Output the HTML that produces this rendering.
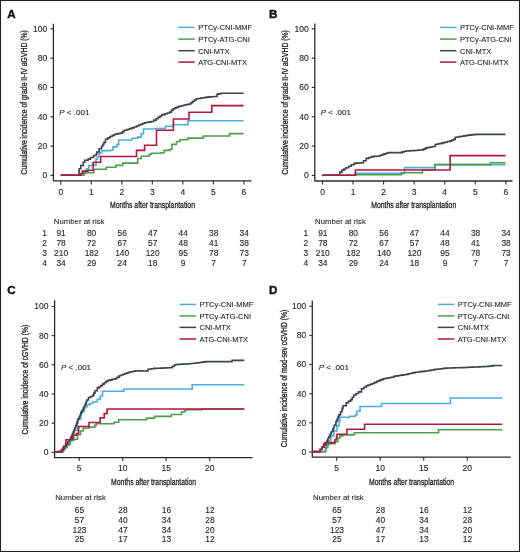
<!DOCTYPE html>
<html><head><meta charset="utf-8"><style>
html,body{margin:0;padding:0;background:#fff;}
body{width:520px;height:552px;overflow:hidden;}
svg{display:block;will-change:transform;}
svg text{font-family:"Liberation Sans", sans-serif;fill:#231f20;}
</style></head><body>
<svg width="520" height="552" viewBox="0 0 520 552">
<rect x="0.5" y="0.5" width="519" height="551" fill="#fff" stroke="#1e1e1e" stroke-width="1.1"/>
<path d="M53.40 23.70 V180.90 H251.50" fill="none" stroke="#2b2b2b" stroke-width="1.3"/>
<line x1="50.40" y1="175.40" x2="53.40" y2="175.40" stroke="#2b2b2b" stroke-width="1.1"/>
<text x="47.30" y="178.30" font-size="8.5" text-anchor="end" stroke="#231f20" stroke-width="0.12">0</text>
<line x1="50.40" y1="146.08" x2="53.40" y2="146.08" stroke="#2b2b2b" stroke-width="1.1"/>
<text x="47.30" y="148.98" font-size="8.5" text-anchor="end" stroke="#231f20" stroke-width="0.12">20</text>
<line x1="50.40" y1="116.76" x2="53.40" y2="116.76" stroke="#2b2b2b" stroke-width="1.1"/>
<text x="47.30" y="119.66" font-size="8.5" text-anchor="end" stroke="#231f20" stroke-width="0.12">40</text>
<line x1="50.40" y1="87.44" x2="53.40" y2="87.44" stroke="#2b2b2b" stroke-width="1.1"/>
<text x="47.30" y="90.34" font-size="8.5" text-anchor="end" stroke="#231f20" stroke-width="0.12">60</text>
<line x1="50.40" y1="58.12" x2="53.40" y2="58.12" stroke="#2b2b2b" stroke-width="1.1"/>
<text x="47.30" y="61.02" font-size="8.5" text-anchor="end" stroke="#231f20" stroke-width="0.12">80</text>
<line x1="50.40" y1="28.80" x2="53.40" y2="28.80" stroke="#2b2b2b" stroke-width="1.1"/>
<text x="47.30" y="31.70" font-size="8.5" text-anchor="end" stroke="#231f20" stroke-width="0.12">100</text>
<line x1="60.80" y1="180.90" x2="60.80" y2="184.40" stroke="#2b2b2b" stroke-width="1.1"/>
<text x="60.80" y="194.60" font-size="8.5" text-anchor="middle" stroke="#231f20" stroke-width="0.12">0</text>
<line x1="91.32" y1="180.90" x2="91.32" y2="184.40" stroke="#2b2b2b" stroke-width="1.1"/>
<text x="91.32" y="194.60" font-size="8.5" text-anchor="middle" stroke="#231f20" stroke-width="0.12">1</text>
<line x1="121.84" y1="180.90" x2="121.84" y2="184.40" stroke="#2b2b2b" stroke-width="1.1"/>
<text x="121.84" y="194.60" font-size="8.5" text-anchor="middle" stroke="#231f20" stroke-width="0.12">2</text>
<line x1="152.36" y1="180.90" x2="152.36" y2="184.40" stroke="#2b2b2b" stroke-width="1.1"/>
<text x="152.36" y="194.60" font-size="8.5" text-anchor="middle" stroke="#231f20" stroke-width="0.12">3</text>
<line x1="182.88" y1="180.90" x2="182.88" y2="184.40" stroke="#2b2b2b" stroke-width="1.1"/>
<text x="182.88" y="194.60" font-size="8.5" text-anchor="middle" stroke="#231f20" stroke-width="0.12">4</text>
<line x1="213.40" y1="180.90" x2="213.40" y2="184.40" stroke="#2b2b2b" stroke-width="1.1"/>
<text x="213.40" y="194.60" font-size="8.5" text-anchor="middle" stroke="#231f20" stroke-width="0.12">5</text>
<line x1="243.92" y1="180.90" x2="243.92" y2="184.40" stroke="#2b2b2b" stroke-width="1.1"/>
<text x="243.92" y="194.60" font-size="8.5" text-anchor="middle" stroke="#231f20" stroke-width="0.12">6</text>
<text x="7.20" y="17.50" font-size="11.6" text-anchor="start" font-weight="bold" stroke="#111" stroke-width="0.4" style="fill:#111">A</text>
<text transform="translate(26.90,102.30) rotate(-90) scale(0.8252,1)" font-size="8.3" text-anchor="middle" stroke="#231f20" stroke-width="0.32">Cumulative incidence of grade II-IV aGVHD (%)</text>
<text transform="translate(152.45,207.80) scale(0.79,1)" font-size="8.7" text-anchor="middle" stroke="#231f20" stroke-width="0.28">Months after transplantation</text>
<text stroke="#231f20" stroke-width="0.12" x="59.30" y="115.40" font-size="8"><tspan font-style="italic">P</tspan> &lt; .001</text>
<line x1="178.30" y1="27.40" x2="194.80" y2="27.40" stroke="#4aaede" stroke-width="1.5"/>
<text x="198.30" y="30.20" font-size="7.5" text-anchor="start" stroke="#231f20" stroke-width="0.1">PTCy-CNI-MMF</text>
<line x1="178.30" y1="39.10" x2="194.80" y2="39.10" stroke="#4c9e4c" stroke-width="1.5"/>
<text x="198.30" y="41.90" font-size="7.5" text-anchor="start" stroke="#231f20" stroke-width="0.1">PTCy-ATG-CNI</text>
<line x1="178.30" y1="50.70" x2="194.80" y2="50.70" stroke="#3c414e" stroke-width="1.5"/>
<text x="198.30" y="53.50" font-size="7.5" text-anchor="start" stroke="#231f20" stroke-width="0.1">CNI-MTX</text>
<line x1="178.30" y1="62.10" x2="194.80" y2="62.10" stroke="#b3173f" stroke-width="1.5"/>
<text x="198.30" y="64.90" font-size="7.5" text-anchor="start" stroke="#231f20" stroke-width="0.1">ATG-CNI-MTX</text>
<text x="53.80" y="224.20" font-size="7.8" text-anchor="start" stroke="#231f20" stroke-width="0.1">Number at risk</text>
<text x="44.60" y="236.40" font-size="8.4" text-anchor="middle" stroke="#231f20" stroke-width="0.12">1</text>
<text x="61.10" y="236.40" font-size="8.4" text-anchor="middle" stroke="#231f20" stroke-width="0.12">91</text>
<text x="91.62" y="236.40" font-size="8.4" text-anchor="middle" stroke="#231f20" stroke-width="0.12">80</text>
<text x="122.14" y="236.40" font-size="8.4" text-anchor="middle" stroke="#231f20" stroke-width="0.12">56</text>
<text x="152.66" y="236.40" font-size="8.4" text-anchor="middle" stroke="#231f20" stroke-width="0.12">47</text>
<text x="183.18" y="236.40" font-size="8.4" text-anchor="middle" stroke="#231f20" stroke-width="0.12">44</text>
<text x="213.70" y="236.40" font-size="8.4" text-anchor="middle" stroke="#231f20" stroke-width="0.12">38</text>
<text x="244.22" y="236.40" font-size="8.4" text-anchor="middle" stroke="#231f20" stroke-width="0.12">34</text>
<text x="44.60" y="246.30" font-size="8.4" text-anchor="middle" stroke="#231f20" stroke-width="0.12">2</text>
<text x="61.10" y="246.30" font-size="8.4" text-anchor="middle" stroke="#231f20" stroke-width="0.12">78</text>
<text x="91.62" y="246.30" font-size="8.4" text-anchor="middle" stroke="#231f20" stroke-width="0.12">72</text>
<text x="122.14" y="246.30" font-size="8.4" text-anchor="middle" stroke="#231f20" stroke-width="0.12">67</text>
<text x="152.66" y="246.30" font-size="8.4" text-anchor="middle" stroke="#231f20" stroke-width="0.12">57</text>
<text x="183.18" y="246.30" font-size="8.4" text-anchor="middle" stroke="#231f20" stroke-width="0.12">48</text>
<text x="213.70" y="246.30" font-size="8.4" text-anchor="middle" stroke="#231f20" stroke-width="0.12">41</text>
<text x="244.22" y="246.30" font-size="8.4" text-anchor="middle" stroke="#231f20" stroke-width="0.12">38</text>
<text x="44.60" y="256.20" font-size="8.4" text-anchor="middle" stroke="#231f20" stroke-width="0.12">3</text>
<text x="61.10" y="256.20" font-size="8.4" text-anchor="middle" stroke="#231f20" stroke-width="0.12">210</text>
<text x="91.62" y="256.20" font-size="8.4" text-anchor="middle" stroke="#231f20" stroke-width="0.12">182</text>
<text x="122.14" y="256.20" font-size="8.4" text-anchor="middle" stroke="#231f20" stroke-width="0.12">140</text>
<text x="152.66" y="256.20" font-size="8.4" text-anchor="middle" stroke="#231f20" stroke-width="0.12">120</text>
<text x="183.18" y="256.20" font-size="8.4" text-anchor="middle" stroke="#231f20" stroke-width="0.12">95</text>
<text x="213.70" y="256.20" font-size="8.4" text-anchor="middle" stroke="#231f20" stroke-width="0.12">78</text>
<text x="244.22" y="256.20" font-size="8.4" text-anchor="middle" stroke="#231f20" stroke-width="0.12">73</text>
<text x="44.60" y="266.00" font-size="8.4" text-anchor="middle" stroke="#231f20" stroke-width="0.12">4</text>
<text x="61.10" y="266.00" font-size="8.4" text-anchor="middle" stroke="#231f20" stroke-width="0.12">34</text>
<text x="91.62" y="266.00" font-size="8.4" text-anchor="middle" stroke="#231f20" stroke-width="0.12">29</text>
<text x="122.14" y="266.00" font-size="8.4" text-anchor="middle" stroke="#231f20" stroke-width="0.12">24</text>
<text x="152.66" y="266.00" font-size="8.4" text-anchor="middle" stroke="#231f20" stroke-width="0.12">18</text>
<text x="183.18" y="266.00" font-size="8.4" text-anchor="middle" stroke="#231f20" stroke-width="0.12">9</text>
<text x="213.70" y="266.00" font-size="8.4" text-anchor="middle" stroke="#231f20" stroke-width="0.12">7</text>
<text x="244.22" y="266.00" font-size="8.4" text-anchor="middle" stroke="#231f20" stroke-width="0.12">7</text>
<path d="M60.80 175.20 L84.00 175.20 L84.00 173.50 L85.60 173.50 L85.60 170.30 L86.40 170.30 L86.40 168.70 L88.80 168.70 L88.80 165.50 L92.00 165.50 L92.00 165.10 L96.00 165.10 L96.00 159.10 L97.50 159.10 L97.50 156.70 L99.10 156.70 L99.10 153.50 L100.70 153.50 L100.70 152.00 L102.30 152.00 L102.30 150.60 L110.00 150.60 L110.00 150.20 L112.90 150.20 L112.90 146.90 L116.90 146.90 L116.90 144.60 L118.70 144.60 L118.70 140.00 L131.90 140.00 L131.90 138.30 L137.70 138.30 L137.70 137.10 L141.20 137.10 L141.20 133.70 L143.50 133.70 L143.50 129.00 L155.00 129.00 L155.00 128.50 L165.40 128.50 L165.40 126.20 L173.10 126.20 L173.10 124.80 L188.10 124.80 L188.10 120.80 L243.60 120.80" fill="none" stroke="#4aaede" stroke-width="1.6" stroke-linejoin="miter"/>
<path d="M60.80 175.20 L82.10 175.20 L83.70 175.20 L83.70 172.80 L93.80 172.80 L93.80 169.30 L106.30 169.30 L106.30 167.30 L115.80 167.30 L115.80 165.40 L122.70 165.40 L122.70 163.10 L137.70 163.10 L137.70 158.50 L141.20 158.50 L141.20 156.20 L149.20 156.20 L149.20 154.40 L151.50 154.40 L151.50 153.30 L160.80 153.30 L160.80 152.70 L164.20 152.70 L164.20 150.40 L170.00 150.40 L170.00 149.20 L171.90 149.20 L171.90 144.40 L176.50 144.40 L176.50 141.50 L180.00 141.50 L180.00 139.80 L186.90 139.80 L186.90 139.20 L188.10 139.20 L188.10 138.10 L203.10 138.10 L203.10 136.00 L229.40 136.00 L229.40 133.60 L243.60 133.60" fill="none" stroke="#4c9e4c" stroke-width="1.6" stroke-linejoin="miter"/>
<path d="M60.80 175.20 L78.80 175.20 L78.80 175.20 L78.93 175.20 L78.93 173.03 L79.07 173.03 L79.07 170.87 L79.20 170.87 L79.20 168.70 L80.80 168.70 L80.80 165.50 L83.20 165.50 L83.20 162.30 L84.80 162.30 L84.80 160.30 L88.00 160.30 L88.00 159.10 L90.40 159.10 L90.40 157.50 L93.60 157.50 L93.60 155.50 L96.00 155.50 L96.00 154.30 L96.80 154.30 L96.80 152.00 L99.10 152.00 L99.10 148.80 L101.50 148.80 L101.50 146.40 L102.70 146.40 L102.70 144.40 L103.90 144.40 L103.90 142.40 L105.50 142.40 L105.50 139.20 L107.75 139.20 L107.75 137.85 L110.00 137.85 L110.00 136.50 L112.30 136.50 L112.30 135.35 L114.60 135.35 L114.60 134.20 L116.53 134.20 L116.53 133.83 L118.47 133.83 L118.47 133.47 L120.40 133.47 L120.40 133.10 L122.40 133.10 L122.40 131.65 L124.40 131.65 L124.40 130.20 L126.90 130.20 L126.90 129.43 L129.40 129.43 L129.40 128.67 L131.90 128.67 L131.90 127.90 L134.20 127.90 L134.20 126.93 L136.50 126.93 L136.50 125.97 L138.80 125.97 L138.80 125.00 L140.73 125.00 L140.73 124.23 L142.67 124.23 L142.67 123.47 L144.60 123.47 L144.60 122.70 L146.90 122.70 L146.90 122.30 L149.20 122.30 L149.20 121.90 L151.50 121.90 L151.50 121.50 L153.85 121.50 L153.85 120.10 L156.20 120.10 L156.20 118.70 L158.10 118.70 L158.10 117.33 L160.00 117.33 L160.00 115.97 L161.90 115.97 L161.90 114.60 L165.00 114.60 L165.00 113.80 L167.30 113.80 L167.30 112.95 L169.60 112.95 L169.60 112.10 L171.35 112.10 L171.35 110.40 L173.10 110.40 L173.10 108.70 L175.00 108.70 L175.00 107.90 L176.90 107.90 L176.90 107.10 L178.80 107.10 L178.80 106.30 L181.15 106.30 L181.15 105.75 L183.50 105.75 L183.50 105.20 L185.40 105.20 L185.40 104.80 L187.30 104.80 L187.30 104.40 L189.20 104.40 L189.20 104.00 L190.95 104.00 L190.95 102.60 L192.70 102.60 L192.70 101.20 L194.45 101.20 L194.45 100.00 L196.20 100.00 L196.20 98.80 L198.50 98.80 L198.50 98.43 L200.80 98.43 L200.80 98.07 L203.10 98.07 L203.10 97.70 L205.10 97.70 L205.10 97.40 L207.10 97.40 L207.10 97.10 L209.43 97.10 L209.43 96.90 L211.77 96.90 L211.77 96.70 L214.10 96.70 L214.10 96.50 L217.10 96.50 L217.10 94.10 L219.15 94.10 L219.15 93.65 L221.20 93.65 L221.20 93.20 L243.60 93.20 L243.60 93.20" fill="none" stroke="#3c414e" stroke-width="1.6" stroke-linejoin="miter"/>
<path d="M60.80 175.20 L80.80 175.20 L80.80 173.50 L82.40 173.50 L82.40 171.10 L88.00 171.10 L88.00 170.20 L93.20 170.20 L93.20 162.30 L100.70 162.30 L100.70 156.50 L136.50 156.50 L136.50 150.40 L144.60 150.40 L144.60 145.20 L156.50 145.20 L156.50 130.30 L173.40 130.30 L173.40 119.00 L189.00 119.00 L189.00 112.20 L211.80 112.20 L211.80 105.60 L243.60 105.60" fill="none" stroke="#b3173f" stroke-width="1.6" stroke-linejoin="miter"/>
<path d="M314.80 23.40 V181.00 H512.60" fill="none" stroke="#2b2b2b" stroke-width="1.3"/>
<line x1="311.80" y1="175.40" x2="314.80" y2="175.40" stroke="#2b2b2b" stroke-width="1.1"/>
<text x="308.70" y="178.30" font-size="8.5" text-anchor="end" stroke="#231f20" stroke-width="0.12">0</text>
<line x1="311.80" y1="146.08" x2="314.80" y2="146.08" stroke="#2b2b2b" stroke-width="1.1"/>
<text x="308.70" y="148.98" font-size="8.5" text-anchor="end" stroke="#231f20" stroke-width="0.12">20</text>
<line x1="311.80" y1="116.76" x2="314.80" y2="116.76" stroke="#2b2b2b" stroke-width="1.1"/>
<text x="308.70" y="119.66" font-size="8.5" text-anchor="end" stroke="#231f20" stroke-width="0.12">40</text>
<line x1="311.80" y1="87.44" x2="314.80" y2="87.44" stroke="#2b2b2b" stroke-width="1.1"/>
<text x="308.70" y="90.34" font-size="8.5" text-anchor="end" stroke="#231f20" stroke-width="0.12">60</text>
<line x1="311.80" y1="58.12" x2="314.80" y2="58.12" stroke="#2b2b2b" stroke-width="1.1"/>
<text x="308.70" y="61.02" font-size="8.5" text-anchor="end" stroke="#231f20" stroke-width="0.12">80</text>
<line x1="311.80" y1="28.80" x2="314.80" y2="28.80" stroke="#2b2b2b" stroke-width="1.1"/>
<text x="308.70" y="31.70" font-size="8.5" text-anchor="end" stroke="#231f20" stroke-width="0.12">100</text>
<line x1="322.50" y1="181.00" x2="322.50" y2="184.50" stroke="#2b2b2b" stroke-width="1.1"/>
<text x="322.50" y="194.60" font-size="8.5" text-anchor="middle" stroke="#231f20" stroke-width="0.12">0</text>
<line x1="353.05" y1="181.00" x2="353.05" y2="184.50" stroke="#2b2b2b" stroke-width="1.1"/>
<text x="353.05" y="194.60" font-size="8.5" text-anchor="middle" stroke="#231f20" stroke-width="0.12">1</text>
<line x1="383.60" y1="181.00" x2="383.60" y2="184.50" stroke="#2b2b2b" stroke-width="1.1"/>
<text x="383.60" y="194.60" font-size="8.5" text-anchor="middle" stroke="#231f20" stroke-width="0.12">2</text>
<line x1="414.15" y1="181.00" x2="414.15" y2="184.50" stroke="#2b2b2b" stroke-width="1.1"/>
<text x="414.15" y="194.60" font-size="8.5" text-anchor="middle" stroke="#231f20" stroke-width="0.12">3</text>
<line x1="444.70" y1="181.00" x2="444.70" y2="184.50" stroke="#2b2b2b" stroke-width="1.1"/>
<text x="444.70" y="194.60" font-size="8.5" text-anchor="middle" stroke="#231f20" stroke-width="0.12">4</text>
<line x1="475.25" y1="181.00" x2="475.25" y2="184.50" stroke="#2b2b2b" stroke-width="1.1"/>
<text x="475.25" y="194.60" font-size="8.5" text-anchor="middle" stroke="#231f20" stroke-width="0.12">5</text>
<line x1="505.80" y1="181.00" x2="505.80" y2="184.50" stroke="#2b2b2b" stroke-width="1.1"/>
<text x="505.80" y="194.60" font-size="8.5" text-anchor="middle" stroke="#231f20" stroke-width="0.12">6</text>
<text x="269.00" y="17.50" font-size="11.6" text-anchor="start" font-weight="bold" stroke="#111" stroke-width="0.4" style="fill:#111">B</text>
<text transform="translate(287.90,102.30) rotate(-90) scale(0.8252,1)" font-size="8.3" text-anchor="middle" stroke="#231f20" stroke-width="0.32">Cumulative incidence of grade II-IV aGVHD (%)</text>
<text transform="translate(413.70,207.80) scale(0.79,1)" font-size="8.7" text-anchor="middle" stroke="#231f20" stroke-width="0.28">Months after transplantation</text>
<text stroke="#231f20" stroke-width="0.12" x="320.80" y="115.40" font-size="8"><tspan font-style="italic">P</tspan> &lt; .001</text>
<line x1="440.00" y1="27.40" x2="456.50" y2="27.40" stroke="#4aaede" stroke-width="1.5"/>
<text x="460.00" y="30.20" font-size="7.5" text-anchor="start" stroke="#231f20" stroke-width="0.1">PTCy-CNI-MMF</text>
<line x1="440.00" y1="39.10" x2="456.50" y2="39.10" stroke="#4c9e4c" stroke-width="1.5"/>
<text x="460.00" y="41.90" font-size="7.5" text-anchor="start" stroke="#231f20" stroke-width="0.1">PTCy-ATG-CNI</text>
<line x1="440.00" y1="50.70" x2="456.50" y2="50.70" stroke="#3c414e" stroke-width="1.5"/>
<text x="460.00" y="53.50" font-size="7.5" text-anchor="start" stroke="#231f20" stroke-width="0.1">CNI-MTX</text>
<line x1="440.00" y1="62.10" x2="456.50" y2="62.10" stroke="#b3173f" stroke-width="1.5"/>
<text x="460.00" y="64.90" font-size="7.5" text-anchor="start" stroke="#231f20" stroke-width="0.1">ATG-CNI-MTX</text>
<text x="315.10" y="224.20" font-size="7.8" text-anchor="start" stroke="#231f20" stroke-width="0.1">Number at risk</text>
<text x="305.90" y="236.40" font-size="8.4" text-anchor="middle" stroke="#231f20" stroke-width="0.12">1</text>
<text x="322.80" y="236.40" font-size="8.4" text-anchor="middle" stroke="#231f20" stroke-width="0.12">91</text>
<text x="353.35" y="236.40" font-size="8.4" text-anchor="middle" stroke="#231f20" stroke-width="0.12">80</text>
<text x="383.90" y="236.40" font-size="8.4" text-anchor="middle" stroke="#231f20" stroke-width="0.12">56</text>
<text x="414.45" y="236.40" font-size="8.4" text-anchor="middle" stroke="#231f20" stroke-width="0.12">47</text>
<text x="445.00" y="236.40" font-size="8.4" text-anchor="middle" stroke="#231f20" stroke-width="0.12">44</text>
<text x="475.55" y="236.40" font-size="8.4" text-anchor="middle" stroke="#231f20" stroke-width="0.12">38</text>
<text x="506.10" y="236.40" font-size="8.4" text-anchor="middle" stroke="#231f20" stroke-width="0.12">34</text>
<text x="305.90" y="246.30" font-size="8.4" text-anchor="middle" stroke="#231f20" stroke-width="0.12">2</text>
<text x="322.80" y="246.30" font-size="8.4" text-anchor="middle" stroke="#231f20" stroke-width="0.12">78</text>
<text x="353.35" y="246.30" font-size="8.4" text-anchor="middle" stroke="#231f20" stroke-width="0.12">72</text>
<text x="383.90" y="246.30" font-size="8.4" text-anchor="middle" stroke="#231f20" stroke-width="0.12">67</text>
<text x="414.45" y="246.30" font-size="8.4" text-anchor="middle" stroke="#231f20" stroke-width="0.12">57</text>
<text x="445.00" y="246.30" font-size="8.4" text-anchor="middle" stroke="#231f20" stroke-width="0.12">48</text>
<text x="475.55" y="246.30" font-size="8.4" text-anchor="middle" stroke="#231f20" stroke-width="0.12">41</text>
<text x="506.10" y="246.30" font-size="8.4" text-anchor="middle" stroke="#231f20" stroke-width="0.12">38</text>
<text x="305.90" y="256.20" font-size="8.4" text-anchor="middle" stroke="#231f20" stroke-width="0.12">3</text>
<text x="322.80" y="256.20" font-size="8.4" text-anchor="middle" stroke="#231f20" stroke-width="0.12">210</text>
<text x="353.35" y="256.20" font-size="8.4" text-anchor="middle" stroke="#231f20" stroke-width="0.12">182</text>
<text x="383.90" y="256.20" font-size="8.4" text-anchor="middle" stroke="#231f20" stroke-width="0.12">140</text>
<text x="414.45" y="256.20" font-size="8.4" text-anchor="middle" stroke="#231f20" stroke-width="0.12">120</text>
<text x="445.00" y="256.20" font-size="8.4" text-anchor="middle" stroke="#231f20" stroke-width="0.12">95</text>
<text x="475.55" y="256.20" font-size="8.4" text-anchor="middle" stroke="#231f20" stroke-width="0.12">78</text>
<text x="506.10" y="256.20" font-size="8.4" text-anchor="middle" stroke="#231f20" stroke-width="0.12">73</text>
<text x="305.90" y="266.00" font-size="8.4" text-anchor="middle" stroke="#231f20" stroke-width="0.12">4</text>
<text x="322.80" y="266.00" font-size="8.4" text-anchor="middle" stroke="#231f20" stroke-width="0.12">34</text>
<text x="353.35" y="266.00" font-size="8.4" text-anchor="middle" stroke="#231f20" stroke-width="0.12">29</text>
<text x="383.90" y="266.00" font-size="8.4" text-anchor="middle" stroke="#231f20" stroke-width="0.12">24</text>
<text x="414.45" y="266.00" font-size="8.4" text-anchor="middle" stroke="#231f20" stroke-width="0.12">18</text>
<text x="445.00" y="266.00" font-size="8.4" text-anchor="middle" stroke="#231f20" stroke-width="0.12">9</text>
<text x="475.55" y="266.00" font-size="8.4" text-anchor="middle" stroke="#231f20" stroke-width="0.12">7</text>
<text x="506.10" y="266.00" font-size="8.4" text-anchor="middle" stroke="#231f20" stroke-width="0.12">7</text>
<path d="M322.40 175.20 L355.40 175.20 L355.40 173.40 L404.60 173.40 L404.60 167.60 L434.60 167.60 L434.60 164.60 L505.50 164.60" fill="none" stroke="#4aaede" stroke-width="1.6" stroke-linejoin="miter"/>
<path d="M322.40 175.20 L355.40 175.20 L355.40 174.70 L401.30 174.70 L401.30 172.80 L422.40 172.80 L422.40 170.00 L435.00 170.00 L435.00 164.60 L490.50 164.60 L490.50 162.80 L505.50 162.80" fill="none" stroke="#4c9e4c" stroke-width="1.6" stroke-linejoin="miter"/>
<path d="M322.40 175.20 L339.90 175.20 L339.90 175.20 L339.90 175.20 L339.90 172.10 L341.90 172.10 L341.90 170.10 L343.95 170.10 L343.95 168.95 L346.00 168.95 L346.00 167.80 L348.65 167.80 L348.65 166.25 L351.30 166.25 L351.30 164.70 L354.00 164.70 L354.00 163.40 L356.27 163.40 L356.27 163.17 L358.53 163.17 L358.53 162.93 L360.80 162.93 L360.80 162.70 L363.50 162.70 L363.50 160.70 L366.10 160.70 L366.10 158.40 L368.80 158.40 L368.80 157.50 L371.50 157.50 L371.50 156.60 L373.77 156.60 L373.77 156.40 L376.03 156.40 L376.03 156.20 L378.30 156.20 L378.30 156.00 L380.30 156.00 L380.30 155.30 L382.30 155.30 L382.30 154.60 L384.00 154.60 L384.00 153.90 L386.05 153.90 L386.05 153.25 L388.10 153.25 L388.10 152.60 L400.20 152.60 L400.20 152.60 L402.20 152.60 L402.20 151.90 L404.20 151.90 L404.20 151.20 L406.23 151.20 L406.23 151.05 L408.25 151.05 L408.25 150.90 L410.27 150.90 L410.27 150.75 L412.30 150.75 L412.30 150.60 L414.65 150.60 L414.65 150.43 L417.00 150.43 L417.00 150.25 L419.35 150.25 L419.35 150.07 L421.70 150.07 L421.70 149.90 L423.75 149.90 L423.75 148.90 L425.80 148.90 L425.80 147.90 L428.03 147.90 L428.03 147.43 L430.27 147.43 L430.27 146.97 L432.50 146.97 L432.50 146.50 L435.20 146.50 L435.20 144.50 L437.20 144.50 L437.20 144.05 L439.20 144.05 L439.20 143.60 L441.90 143.60 L441.90 142.90 L444.60 142.90 L444.60 142.20 L447.35 142.20 L447.35 141.55 L450.10 141.55 L450.10 140.90 L451.90 140.90 L451.90 140.15 L453.70 140.15 L453.70 139.40 L455.20 139.40 L455.20 137.30 L457.35 137.30 L457.35 136.93 L459.50 136.93 L459.50 136.57 L461.65 136.57 L461.65 136.20 L463.80 136.20 L463.80 135.83 L465.95 135.83 L465.95 135.47 L468.10 135.47 L468.10 135.10 L470.53 135.10 L470.53 134.87 L472.97 134.87 L472.97 134.63 L475.40 134.63 L475.40 134.40 L505.50 134.40 L505.50 134.40" fill="none" stroke="#3c414e" stroke-width="1.6" stroke-linejoin="miter"/>
<path d="M322.40 175.20 L355.40 175.20 L355.40 170.00 L450.10 170.00 L450.10 155.60 L505.50 155.60" fill="none" stroke="#b3173f" stroke-width="1.6" stroke-linejoin="miter"/>
<path d="M54.60 300.20 V457.60 H252.60" fill="none" stroke="#2b2b2b" stroke-width="1.3"/>
<line x1="51.60" y1="452.30" x2="54.60" y2="452.30" stroke="#2b2b2b" stroke-width="1.1"/>
<text x="48.50" y="455.20" font-size="8.5" text-anchor="end" stroke="#231f20" stroke-width="0.12">0</text>
<line x1="51.60" y1="423.14" x2="54.60" y2="423.14" stroke="#2b2b2b" stroke-width="1.1"/>
<text x="48.50" y="426.04" font-size="8.5" text-anchor="end" stroke="#231f20" stroke-width="0.12">20</text>
<line x1="51.60" y1="393.98" x2="54.60" y2="393.98" stroke="#2b2b2b" stroke-width="1.1"/>
<text x="48.50" y="396.88" font-size="8.5" text-anchor="end" stroke="#231f20" stroke-width="0.12">40</text>
<line x1="51.60" y1="364.82" x2="54.60" y2="364.82" stroke="#2b2b2b" stroke-width="1.1"/>
<text x="48.50" y="367.72" font-size="8.5" text-anchor="end" stroke="#231f20" stroke-width="0.12">60</text>
<line x1="51.60" y1="335.66" x2="54.60" y2="335.66" stroke="#2b2b2b" stroke-width="1.1"/>
<text x="48.50" y="338.56" font-size="8.5" text-anchor="end" stroke="#231f20" stroke-width="0.12">80</text>
<line x1="51.60" y1="306.50" x2="54.60" y2="306.50" stroke="#2b2b2b" stroke-width="1.1"/>
<text x="48.50" y="309.40" font-size="8.5" text-anchor="end" stroke="#231f20" stroke-width="0.12">100</text>
<line x1="79.20" y1="457.60" x2="79.20" y2="461.10" stroke="#2b2b2b" stroke-width="1.1"/>
<text x="79.20" y="471.40" font-size="8.5" text-anchor="middle" stroke="#231f20" stroke-width="0.12">5</text>
<line x1="122.70" y1="457.60" x2="122.70" y2="461.10" stroke="#2b2b2b" stroke-width="1.1"/>
<text x="122.70" y="471.40" font-size="8.5" text-anchor="middle" stroke="#231f20" stroke-width="0.12">10</text>
<line x1="166.20" y1="457.60" x2="166.20" y2="461.10" stroke="#2b2b2b" stroke-width="1.1"/>
<text x="166.20" y="471.40" font-size="8.5" text-anchor="middle" stroke="#231f20" stroke-width="0.12">15</text>
<line x1="209.70" y1="457.60" x2="209.70" y2="461.10" stroke="#2b2b2b" stroke-width="1.1"/>
<text x="209.70" y="471.40" font-size="8.5" text-anchor="middle" stroke="#231f20" stroke-width="0.12">20</text>
<text x="7.20" y="294.40" font-size="11.6" text-anchor="start" font-weight="bold" stroke="#111" stroke-width="0.4" style="fill:#111">C</text>
<text transform="translate(27.90,379.60) rotate(-90) scale(0.8227,1)" font-size="8.3" text-anchor="middle" stroke="#231f20" stroke-width="0.32">Cumulative incidence of cGVHD (%)</text>
<text transform="translate(153.60,485.00) scale(0.79,1)" font-size="8.7" text-anchor="middle" stroke="#231f20" stroke-width="0.28">Months after transplantation</text>
<text stroke="#231f20" stroke-width="0.12" x="61.00" y="369.70" font-size="8"><tspan font-style="italic">P</tspan> &lt; .001</text>
<line x1="179.50" y1="304.40" x2="196.00" y2="304.40" stroke="#4aaede" stroke-width="1.5"/>
<text x="199.50" y="307.20" font-size="7.5" text-anchor="start" stroke="#231f20" stroke-width="0.1">PTCy-CNI-MMF</text>
<line x1="179.50" y1="315.90" x2="196.00" y2="315.90" stroke="#4c9e4c" stroke-width="1.5"/>
<text x="199.50" y="318.70" font-size="7.5" text-anchor="start" stroke="#231f20" stroke-width="0.1">PTCy-ATG-CNI</text>
<line x1="179.50" y1="327.40" x2="196.00" y2="327.40" stroke="#3c414e" stroke-width="1.5"/>
<text x="199.50" y="330.20" font-size="7.5" text-anchor="start" stroke="#231f20" stroke-width="0.1">CNI-MTX</text>
<line x1="179.50" y1="339.00" x2="196.00" y2="339.00" stroke="#b3173f" stroke-width="1.5"/>
<text x="199.50" y="341.80" font-size="7.5" text-anchor="start" stroke="#231f20" stroke-width="0.1">ATG-CNI-MTX</text>
<text x="55.20" y="500.40" font-size="7.8" text-anchor="start" stroke="#231f20" stroke-width="0.1">Number at risk</text>
<text x="79.50" y="513.00" font-size="8.4" text-anchor="middle" stroke="#231f20" stroke-width="0.12">65</text>
<text x="123.00" y="513.00" font-size="8.4" text-anchor="middle" stroke="#231f20" stroke-width="0.12">28</text>
<text x="166.50" y="513.00" font-size="8.4" text-anchor="middle" stroke="#231f20" stroke-width="0.12">16</text>
<text x="210.00" y="513.00" font-size="8.4" text-anchor="middle" stroke="#231f20" stroke-width="0.12">12</text>
<text x="79.50" y="522.80" font-size="8.4" text-anchor="middle" stroke="#231f20" stroke-width="0.12">57</text>
<text x="123.00" y="522.80" font-size="8.4" text-anchor="middle" stroke="#231f20" stroke-width="0.12">40</text>
<text x="166.50" y="522.80" font-size="8.4" text-anchor="middle" stroke="#231f20" stroke-width="0.12">34</text>
<text x="210.00" y="522.80" font-size="8.4" text-anchor="middle" stroke="#231f20" stroke-width="0.12">28</text>
<text x="79.50" y="532.60" font-size="8.4" text-anchor="middle" stroke="#231f20" stroke-width="0.12">123</text>
<text x="123.00" y="532.60" font-size="8.4" text-anchor="middle" stroke="#231f20" stroke-width="0.12">47</text>
<text x="166.50" y="532.60" font-size="8.4" text-anchor="middle" stroke="#231f20" stroke-width="0.12">34</text>
<text x="210.00" y="532.60" font-size="8.4" text-anchor="middle" stroke="#231f20" stroke-width="0.12">20</text>
<text x="79.50" y="542.40" font-size="8.4" text-anchor="middle" stroke="#231f20" stroke-width="0.12">25</text>
<text x="123.00" y="542.40" font-size="8.4" text-anchor="middle" stroke="#231f20" stroke-width="0.12">17</text>
<text x="166.50" y="542.40" font-size="8.4" text-anchor="middle" stroke="#231f20" stroke-width="0.12">13</text>
<text x="210.00" y="542.40" font-size="8.4" text-anchor="middle" stroke="#231f20" stroke-width="0.12">12</text>
<path d="M54.60 452.00 L60.50 452.00 L63.50 452.00 L63.50 448.00 L66.50 448.00 L66.50 444.00 L70.50 444.00 L70.50 438.00 L74.00 438.00 L74.00 430.50 L77.50 430.50 L77.50 419.00 L80.90 419.00 L80.90 411.50 L84.40 411.50 L84.40 406.90 L87.00 406.90 L87.00 404.60 L90.20 404.60 L90.20 403.50 L92.70 403.50 L92.70 401.70 L97.30 401.70 L97.30 399.40 L100.20 399.40 L100.20 396.00 L102.50 396.00 L102.50 391.30 L123.80 391.30 L123.80 389.00 L192.20 389.00 L192.20 384.80 L244.30 384.80" fill="none" stroke="#4aaede" stroke-width="1.6" stroke-linejoin="miter"/>
<path d="M54.60 452.00 L60.20 452.00 L60.20 451.90 L62.50 451.90 L62.50 449.60 L64.80 449.60 L64.80 447.50 L67.10 447.50 L67.10 445.00 L69.40 445.00 L69.40 440.40 L74.00 440.40 L74.00 439.20 L77.50 439.20 L77.50 434.60 L80.50 434.60 L80.50 431.00 L83.20 431.00 L83.20 428.30 L89.00 428.30 L89.00 427.10 L94.80 427.10 L94.80 425.40 L96.20 425.40 L96.20 423.70 L114.00 423.70 L114.00 422.20 L118.70 422.20 L118.70 419.80 L146.60 419.80 L146.60 418.10 L154.60 418.10 L154.60 416.40 L171.20 416.40 L171.20 414.50 L181.40 414.50 L181.40 412.00 L184.30 412.00 L184.30 410.90 L185.70 410.90 L185.70 409.70 L202.30 409.70 L202.30 409.00 L244.30 409.00" fill="none" stroke="#4c9e4c" stroke-width="1.6" stroke-linejoin="miter"/>
<path d="M54.60 452.00 L60.00 452.00 L60.00 452.00 L61.50 452.00 L61.50 450.00 L63.00 450.00 L63.00 448.00 L64.50 448.00 L64.50 446.00 L66.00 446.00 L66.00 444.00 L67.50 444.00 L67.50 442.00 L69.00 442.00 L69.00 440.00 L70.50 440.00 L70.50 438.00 L71.38 438.00 L71.38 436.00 L72.25 436.00 L72.25 434.00 L73.12 434.00 L73.12 432.00 L74.00 432.00 L74.00 430.00 L74.88 430.00 L74.88 427.70 L75.75 427.70 L75.75 425.40 L76.62 425.40 L76.62 423.10 L77.50 423.10 L77.50 420.80 L78.35 420.80 L78.35 418.77 L79.20 418.77 L79.20 416.75 L80.05 416.75 L80.05 414.73 L80.90 414.73 L80.90 412.70 L82.07 412.70 L82.07 410.40 L83.23 410.40 L83.23 408.10 L84.40 408.10 L84.40 405.80 L85.17 405.80 L85.17 403.87 L85.93 403.87 L85.93 401.93 L86.70 401.93 L86.70 400.00 L88.50 400.00 L88.50 397.50 L90.60 397.50 L90.60 396.45 L92.70 396.45 L92.70 395.40 L93.85 395.40 L93.85 393.10 L95.00 393.10 L95.00 390.80 L97.30 390.80 L97.30 387.90 L99.05 387.90 L99.05 386.75 L100.80 386.75 L100.80 385.60 L102.50 385.60 L102.50 384.15 L104.20 384.15 L104.20 382.70 L105.95 382.70 L105.95 381.55 L107.70 381.55 L107.70 380.40 L110.00 380.40 L110.00 379.83 L112.30 379.83 L112.30 379.27 L114.60 379.27 L114.60 378.70 L116.90 378.70 L116.90 377.25 L119.20 377.25 L119.20 375.80 L121.13 375.80 L121.13 375.03 L123.07 375.03 L123.07 374.27 L125.00 374.27 L125.00 373.50 L126.93 373.50 L126.93 372.90 L128.87 372.90 L128.87 372.30 L130.80 372.30 L130.80 371.70 L133.10 371.70 L133.10 371.25 L135.40 371.25 L135.40 370.80 L137.82 370.80 L137.82 370.85 L140.25 370.85 L140.25 370.90 L142.68 370.90 L142.68 370.95 L145.10 370.95 L145.10 371.00 L148.00 371.00 L148.00 369.30 L149.93 369.30 L149.93 369.00 L151.87 369.00 L151.87 368.70 L153.80 368.70 L153.80 368.40 L156.09 368.40 L156.09 368.30 L158.37 368.30 L158.37 368.20 L160.66 368.20 L160.66 368.10 L162.94 368.10 L162.94 368.00 L165.23 368.00 L165.23 367.90 L167.51 367.90 L167.51 367.80 L169.80 367.80 L169.80 367.70 L171.95 367.70 L171.95 366.45 L174.10 366.45 L174.10 365.20 L175.60 365.20 L175.60 364.50 L177.77 364.50 L177.77 364.38 L179.93 364.38 L179.93 364.27 L182.10 364.27 L182.10 364.15 L184.27 364.15 L184.27 364.03 L186.43 364.03 L186.43 363.92 L188.60 363.92 L188.60 363.80 L191.00 363.80 L191.00 363.53 L193.40 363.53 L193.40 363.27 L195.80 363.27 L195.80 363.00 L197.82 363.00 L197.82 362.72 L199.84 362.72 L199.84 362.44 L201.86 362.44 L201.86 362.16 L203.88 362.16 L203.88 361.88 L205.90 361.88 L205.90 361.60 L229.10 361.60 L229.10 361.60 L232.00 361.60 L232.00 360.40 L244.30 360.40 L244.30 360.40" fill="none" stroke="#3c414e" stroke-width="1.6" stroke-linejoin="miter"/>
<path d="M54.60 451.80 L58.00 451.80 L58.00 451.30 L61.30 451.30 L61.30 449.60 L63.60 449.60 L63.60 446.20 L65.90 446.20 L65.90 439.80 L70.50 439.80 L70.50 439.20 L72.80 439.20 L72.80 435.20 L76.30 435.20 L76.30 433.50 L78.60 433.50 L78.60 426.50 L89.00 426.50 L89.00 422.50 L100.20 422.50 L100.20 417.90 L104.20 417.90 L104.20 413.60 L107.10 413.60 L107.10 409.00 L244.30 409.00" fill="none" stroke="#b3173f" stroke-width="1.6" stroke-linejoin="miter"/>
<path d="M312.30 300.60 V457.20 H510.80" fill="none" stroke="#2b2b2b" stroke-width="1.3"/>
<line x1="309.30" y1="452.00" x2="312.30" y2="452.00" stroke="#2b2b2b" stroke-width="1.1"/>
<text x="306.20" y="454.90" font-size="8.5" text-anchor="end" stroke="#231f20" stroke-width="0.12">0</text>
<line x1="309.30" y1="422.84" x2="312.30" y2="422.84" stroke="#2b2b2b" stroke-width="1.1"/>
<text x="306.20" y="425.74" font-size="8.5" text-anchor="end" stroke="#231f20" stroke-width="0.12">20</text>
<line x1="309.30" y1="393.68" x2="312.30" y2="393.68" stroke="#2b2b2b" stroke-width="1.1"/>
<text x="306.20" y="396.58" font-size="8.5" text-anchor="end" stroke="#231f20" stroke-width="0.12">40</text>
<line x1="309.30" y1="364.52" x2="312.30" y2="364.52" stroke="#2b2b2b" stroke-width="1.1"/>
<text x="306.20" y="367.42" font-size="8.5" text-anchor="end" stroke="#231f20" stroke-width="0.12">60</text>
<line x1="309.30" y1="335.36" x2="312.30" y2="335.36" stroke="#2b2b2b" stroke-width="1.1"/>
<text x="306.20" y="338.26" font-size="8.5" text-anchor="end" stroke="#231f20" stroke-width="0.12">80</text>
<line x1="309.30" y1="306.20" x2="312.30" y2="306.20" stroke="#2b2b2b" stroke-width="1.1"/>
<text x="306.20" y="309.10" font-size="8.5" text-anchor="end" stroke="#231f20" stroke-width="0.12">100</text>
<line x1="336.70" y1="457.20" x2="336.70" y2="460.70" stroke="#2b2b2b" stroke-width="1.1"/>
<text x="336.70" y="471.40" font-size="8.5" text-anchor="middle" stroke="#231f20" stroke-width="0.12">5</text>
<line x1="380.20" y1="457.20" x2="380.20" y2="460.70" stroke="#2b2b2b" stroke-width="1.1"/>
<text x="380.20" y="471.40" font-size="8.5" text-anchor="middle" stroke="#231f20" stroke-width="0.12">10</text>
<line x1="423.70" y1="457.20" x2="423.70" y2="460.70" stroke="#2b2b2b" stroke-width="1.1"/>
<text x="423.70" y="471.40" font-size="8.5" text-anchor="middle" stroke="#231f20" stroke-width="0.12">15</text>
<line x1="467.20" y1="457.20" x2="467.20" y2="460.70" stroke="#2b2b2b" stroke-width="1.1"/>
<text x="467.20" y="471.40" font-size="8.5" text-anchor="middle" stroke="#231f20" stroke-width="0.12">20</text>
<text x="269.00" y="294.40" font-size="11.6" text-anchor="start" font-weight="bold" stroke="#111" stroke-width="0.4" style="fill:#111">D</text>
<text transform="translate(286.50,378.40) rotate(-90) scale(0.8211,1)" font-size="8.3" text-anchor="middle" stroke="#231f20" stroke-width="0.32">Cumulative incidence of mod-sev cGVHD (%)</text>
<text transform="translate(411.55,485.00) scale(0.79,1)" font-size="8.7" text-anchor="middle" stroke="#231f20" stroke-width="0.28">Months after transplantation</text>
<text stroke="#231f20" stroke-width="0.12" x="318.80" y="369.70" font-size="8"><tspan font-style="italic">P</tspan> &lt; .001</text>
<line x1="437.80" y1="304.40" x2="454.30" y2="304.40" stroke="#4aaede" stroke-width="1.5"/>
<text x="457.80" y="307.20" font-size="7.5" text-anchor="start" stroke="#231f20" stroke-width="0.1">PTCy-CNI-MMF</text>
<line x1="437.80" y1="315.90" x2="454.30" y2="315.90" stroke="#4c9e4c" stroke-width="1.5"/>
<text x="457.80" y="318.70" font-size="7.5" text-anchor="start" stroke="#231f20" stroke-width="0.1">PTCy-ATG-CNI</text>
<line x1="437.80" y1="327.40" x2="454.30" y2="327.40" stroke="#3c414e" stroke-width="1.5"/>
<text x="457.80" y="330.20" font-size="7.5" text-anchor="start" stroke="#231f20" stroke-width="0.1">CNI-MTX</text>
<line x1="437.80" y1="339.00" x2="454.30" y2="339.00" stroke="#b3173f" stroke-width="1.5"/>
<text x="457.80" y="341.80" font-size="7.5" text-anchor="start" stroke="#231f20" stroke-width="0.1">ATG-CNI-MTX</text>
<text x="313.00" y="500.40" font-size="7.8" text-anchor="start" stroke="#231f20" stroke-width="0.1">Number at risk</text>
<text x="337.00" y="513.00" font-size="8.4" text-anchor="middle" stroke="#231f20" stroke-width="0.12">65</text>
<text x="380.50" y="513.00" font-size="8.4" text-anchor="middle" stroke="#231f20" stroke-width="0.12">28</text>
<text x="424.00" y="513.00" font-size="8.4" text-anchor="middle" stroke="#231f20" stroke-width="0.12">16</text>
<text x="467.50" y="513.00" font-size="8.4" text-anchor="middle" stroke="#231f20" stroke-width="0.12">12</text>
<text x="337.00" y="522.80" font-size="8.4" text-anchor="middle" stroke="#231f20" stroke-width="0.12">57</text>
<text x="380.50" y="522.80" font-size="8.4" text-anchor="middle" stroke="#231f20" stroke-width="0.12">40</text>
<text x="424.00" y="522.80" font-size="8.4" text-anchor="middle" stroke="#231f20" stroke-width="0.12">34</text>
<text x="467.50" y="522.80" font-size="8.4" text-anchor="middle" stroke="#231f20" stroke-width="0.12">28</text>
<text x="337.00" y="532.60" font-size="8.4" text-anchor="middle" stroke="#231f20" stroke-width="0.12">123</text>
<text x="380.50" y="532.60" font-size="8.4" text-anchor="middle" stroke="#231f20" stroke-width="0.12">47</text>
<text x="424.00" y="532.60" font-size="8.4" text-anchor="middle" stroke="#231f20" stroke-width="0.12">34</text>
<text x="467.50" y="532.60" font-size="8.4" text-anchor="middle" stroke="#231f20" stroke-width="0.12">20</text>
<text x="337.00" y="542.40" font-size="8.4" text-anchor="middle" stroke="#231f20" stroke-width="0.12">25</text>
<text x="380.50" y="542.40" font-size="8.4" text-anchor="middle" stroke="#231f20" stroke-width="0.12">17</text>
<text x="424.00" y="542.40" font-size="8.4" text-anchor="middle" stroke="#231f20" stroke-width="0.12">13</text>
<text x="467.50" y="542.40" font-size="8.4" text-anchor="middle" stroke="#231f20" stroke-width="0.12">12</text>
<path d="M312.80 451.60 L325.40 451.60 L325.90 451.60 L325.90 447.80 L327.90 447.80 L327.90 440.80 L330.90 440.80 L330.90 435.90 L333.90 435.90 L333.90 430.90 L336.90 430.90 L336.90 425.90 L338.90 425.90 L338.90 420.90 L339.90 420.90 L339.90 417.30 L349.80 417.30 L349.80 416.20 L355.40 416.20 L355.40 415.00 L356.90 415.00 L356.90 411.20 L360.00 411.20 L360.00 406.50 L381.50 406.50 L381.50 403.50 L450.50 403.50 L450.50 398.00 L502.20 398.00" fill="none" stroke="#4aaede" stroke-width="1.6" stroke-linejoin="miter"/>
<path d="M312.80 451.80 L325.40 451.80 L325.40 447.80 L326.40 447.80 L326.40 444.80 L328.90 444.80 L328.90 443.80 L334.90 443.80 L334.90 441.80 L337.90 441.80 L337.90 438.30 L339.90 438.30 L339.90 435.90 L342.90 435.90 L342.90 434.90 L353.80 434.90 L353.80 434.20 L354.60 434.20 L354.60 432.80 L438.50 432.80 L438.50 429.80 L502.20 429.80" fill="none" stroke="#4c9e4c" stroke-width="1.6" stroke-linejoin="miter"/>
<path d="M312.80 451.60 L318.50 451.60 L318.50 451.60 L320.35 451.60 L320.35 449.40 L322.20 449.40 L322.20 447.20 L324.05 447.20 L324.05 445.00 L325.90 445.00 L325.90 442.80 L326.90 442.80 L326.90 440.65 L327.90 440.65 L327.90 438.50 L328.90 438.50 L328.90 436.70 L329.90 436.70 L329.90 434.90 L330.65 434.90 L330.65 433.20 L331.40 433.20 L331.40 431.50 L332.90 431.50 L332.90 428.90 L333.65 428.90 L333.65 426.95 L334.40 426.95 L334.40 425.00 L335.90 425.00 L335.90 421.90 L336.65 421.90 L336.65 420.20 L337.40 420.20 L337.40 418.50 L338.15 418.50 L338.15 416.70 L338.90 416.70 L338.90 414.90 L340.50 414.90 L340.50 412.00 L341.90 412.00 L341.90 410.00 L342.50 410.00 L342.50 407.90 L343.10 407.90 L343.10 405.80 L346.20 405.80 L346.20 402.70 L348.50 402.70 L348.50 401.15 L350.80 401.15 L350.80 399.60 L352.30 399.60 L352.30 397.30 L353.80 397.30 L353.80 395.00 L356.15 395.00 L356.15 393.45 L358.50 393.45 L358.50 391.90 L361.50 391.90 L361.50 388.80 L363.85 388.80 L363.85 387.30 L366.20 387.30 L366.20 385.80 L368.23 385.80 L368.23 385.03 L370.27 385.03 L370.27 384.27 L372.30 384.27 L372.30 383.50 L374.60 383.50 L374.60 382.35 L376.90 382.35 L376.90 381.20 L378.97 381.20 L378.97 380.40 L381.03 380.40 L381.03 379.60 L383.10 379.60 L383.10 378.80 L385.67 378.80 L385.67 378.30 L388.23 378.30 L388.23 377.80 L390.80 377.80 L390.80 377.30 L393.80 377.30 L393.80 376.20 L396.22 376.20 L396.22 375.84 L398.64 375.84 L398.64 375.48 L401.06 375.48 L401.06 375.12 L403.48 375.12 L403.48 374.76 L405.90 374.76 L405.90 374.40 L408.30 374.40 L408.30 373.80 L410.70 373.80 L410.70 373.20 L413.10 373.20 L413.10 372.60 L415.43 372.60 L415.43 372.29 L417.76 372.29 L417.76 371.97 L420.09 371.97 L420.09 371.66 L422.41 371.66 L422.41 371.34 L424.74 371.34 L424.74 371.03 L427.07 371.03 L427.07 370.71 L429.40 370.71 L429.40 370.40 L431.53 370.40 L431.53 370.03 L433.67 370.03 L433.67 369.67 L435.80 369.67 L435.80 369.30 L438.27 369.30 L438.27 369.00 L440.75 369.00 L440.75 368.70 L443.23 368.70 L443.23 368.40 L445.70 368.40 L445.70 368.10 L448.06 368.10 L448.06 368.03 L450.41 368.03 L450.41 367.96 L452.77 367.96 L452.77 367.89 L455.13 367.89 L455.13 367.81 L457.49 367.81 L457.49 367.74 L459.84 367.74 L459.84 367.67 L462.20 367.67 L462.20 367.60 L464.45 367.60 L464.45 367.49 L466.70 367.49 L466.70 367.38 L468.95 367.38 L468.95 367.28 L471.20 367.28 L471.20 367.17 L473.45 367.17 L473.45 367.06 L475.70 367.06 L475.70 366.95 L477.95 366.95 L477.95 366.84 L480.20 366.84 L480.20 366.73 L482.45 366.73 L482.45 366.62 L484.70 366.62 L484.70 366.52 L486.95 366.52 L486.95 366.41 L489.20 366.41 L489.20 366.30 L491.20 366.30 L491.20 365.90 L493.20 365.90 L493.20 365.50 L502.20 365.50 L502.20 365.50" fill="none" stroke="#3c414e" stroke-width="1.6" stroke-linejoin="miter"/>
<path d="M312.80 451.60 L320.00 451.60 L320.00 449.30 L322.00 449.30 L322.00 446.80 L323.90 446.80 L323.90 443.80 L324.90 443.80 L324.90 442.60 L334.90 442.60 L334.90 439.80 L336.40 439.80 L336.40 437.40 L336.90 437.40 L336.90 434.30 L346.90 434.30 L346.90 429.30 L364.60 429.30 L364.60 424.30 L502.20 424.30" fill="none" stroke="#b3173f" stroke-width="1.6" stroke-linejoin="miter"/>
</svg>
</body></html>
